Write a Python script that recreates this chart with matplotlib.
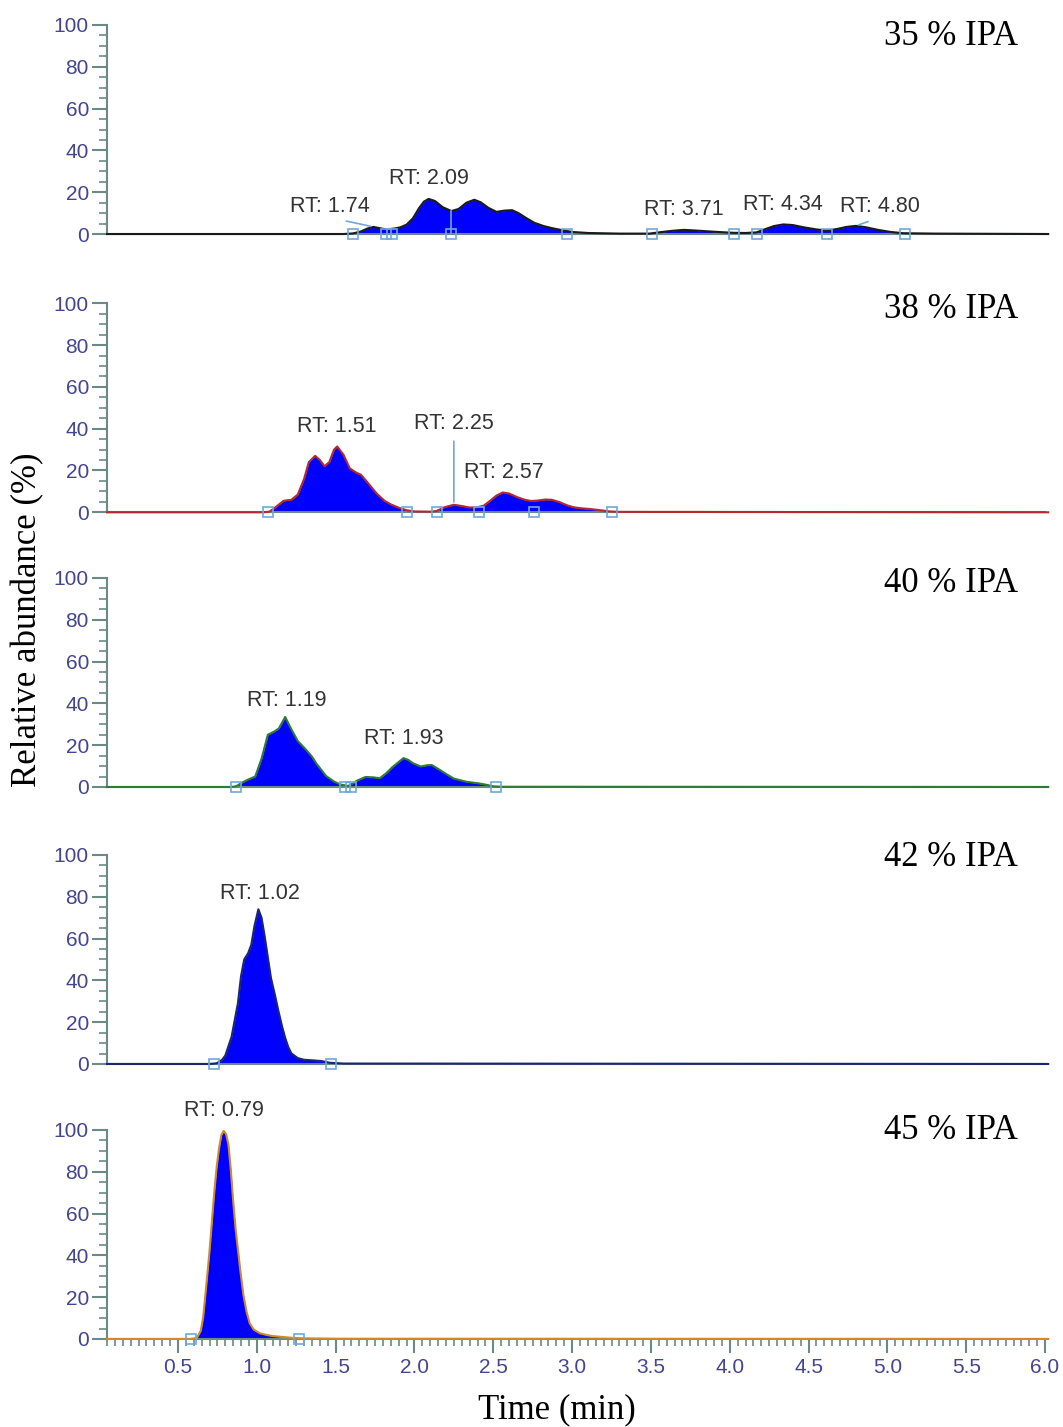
"""Stacked chromatograms of the analyte at increasing IPA content."""
import matplotlib

matplotlib.use("Agg")
import matplotlib.pyplot as plt
import numpy as np
from matplotlib.ticker import MultipleLocator

# ---- data -------------------------------------------------------------------
panel_labels = ["35 % IPA", "38 % IPA", "40 % IPA", "42 % IPA", "45 % IPA"]

t_35 = [0.05, 1.55, 1.61, 1.66, 1.70, 1.74, 1.78, 1.82, 1.87, 1.91, 1.95, 1.99, 2.03,
        2.06, 2.09, 2.13, 2.18, 2.235, 2.28, 2.33, 2.38, 2.42, 2.47, 2.52, 2.57, 2.62,
        2.66, 2.71, 2.76, 2.82, 2.88, 2.94, 3.00, 3.10, 3.30, 3.49, 3.55, 3.63, 3.71,
        3.80, 3.90, 4.02, 4.10, 4.17, 4.22, 4.28, 4.34, 4.40, 4.47, 4.55, 4.62, 4.68,
        4.74, 4.80, 4.86, 4.94, 5.02, 5.10, 5.30, 6.02]
a_35 = [0, 0, 0.3, 1.2, 2.6, 3.4, 2.8, 2.2, 2.6, 3.2, 4.5, 7.5, 12.5,
        15.5, 16.8, 15.8, 12.8, 11.0, 12.0, 15.0, 16.4, 15.2, 12.5, 10.6, 11.2, 11.4,
        10.0, 7.6, 5.4, 3.8, 2.7, 1.8, 1.0, 0.5, 0.2, 0.2, 0.8, 1.5, 2.0,
        1.6, 1.1, 0.6, 0.5, 0.8, 2.2, 3.8, 4.6, 4.3, 3.2, 2.2, 1.7, 2.4,
        3.4, 3.9, 3.3, 2.0, 1.0, 0.4, 0.2, 0]

t_38 = [0.05, 1.04, 1.08, 1.12, 1.17, 1.22, 1.26, 1.30, 1.33, 1.37, 1.40, 1.43, 1.46,
        1.49, 1.51, 1.55, 1.59, 1.63, 1.66, 1.70, 1.76, 1.81, 1.85, 1.90, 1.95, 2.00,
        2.10, 2.14, 2.19, 2.25, 2.30, 2.35, 2.40, 2.44, 2.48, 2.52, 2.56, 2.60, 2.65,
        2.70, 2.74, 2.78, 2.83, 2.87, 2.92, 2.97, 3.01, 3.06, 3.11, 3.18, 3.24, 3.30, 6.02]
a_38 = [0, 0, 0.3, 2.5, 5.5, 6.0, 8.5, 16, 24, 27, 25, 22, 24,
        30, 31.5, 27.5, 21, 19, 18, 14.5, 9, 5.5, 3.8, 2.2, 1.0, 0.4,
        0.3, 0.6, 2.4, 3.6, 3.0, 2.3, 2.4, 3.2, 5.5, 8.0, 9.5, 9.0, 7.3,
        6.0, 5.4, 5.6, 6.1, 6.0, 4.9, 3.3, 2.4, 1.9, 1.6, 1.0, 0.4, 0.2, 0]

t_40 = [0.05, 0.84, 0.87, 0.91, 0.94, 0.99, 1.03, 1.07, 1.11, 1.14, 1.18, 1.22, 1.26,
        1.31, 1.35, 1.38, 1.44, 1.49, 1.53, 1.58, 1.61, 1.64, 1.69, 1.74, 1.78, 1.82,
        1.86, 1.93, 1.96, 1.99, 2.04, 2.08, 2.11, 2.16, 2.21, 2.25, 2.33, 2.41, 2.46,
        2.50, 2.56, 6.02]
a_40 = [0, 0, 0.4, 2.2, 3.4, 5.0, 13.5, 25.0, 26.5, 28.0, 33.5, 27.5, 22.0,
        18.0, 14.5, 11.0, 5.2, 2.6, 1.2, 0.5, 1.8, 3.2, 4.8, 4.6, 4.2, 6.5,
        9.5, 13.8, 13.0, 11.4, 9.8, 10.4, 10.5, 8.2, 5.8, 4.0, 2.5, 1.7, 1.0,
        0.3, 0.1, 0]

t_42 = [0.05, 0.70, 0.745, 0.78, 0.80, 0.84, 0.88, 0.90, 0.92, 0.945, 0.965, 0.985,
        1.01, 1.03, 1.05, 1.07, 1.09, 1.115, 1.135, 1.16, 1.18, 1.20, 1.22, 1.26, 1.30,
        1.36, 1.41, 1.46, 1.55, 6.02]
a_42 = [0, 0, 0.3, 2.0, 4.0, 13, 29, 42, 50, 53, 57, 66,
        74, 70, 61, 51, 41, 33, 26, 18, 12.5, 8, 5, 2.8, 2.0,
        1.7, 1.4, 0.6, 0.2, 0]

t_45 = [0.05, 0.58, 0.62, 0.645, 0.66, 0.68, 0.70, 0.715, 0.73, 0.745, 0.76, 0.775,
        0.79, 0.805, 0.82, 0.835, 0.85, 0.865, 0.88, 0.895, 0.915, 0.935, 0.955, 0.98,
        1.02, 1.07, 1.10, 1.17, 1.23, 1.30, 1.50, 6.02]
a_45 = [0, 0, 0.5, 4, 10.5, 26, 42, 56, 70, 82, 91, 97.5,
        99.5, 98, 93, 81, 66, 53, 43, 33, 21, 13, 7.5, 4.5,
        2.7, 1.8, 1.4, 0.9, 0.5, 0.3, 0.1, 0]

# retention times printed above the peaks
rt_35 = [1.74, 2.09, 3.71, 4.34, 4.80]
rt_38 = [1.51, 2.25, 2.57]
rt_40 = [1.19, 1.93]
rt_42 = [1.02]
rt_45 = [0.79]

# integration boundaries (small square markers on the baseline)
bounds_35 = [1.61, 1.82, 1.86, 2.235, 2.97, 3.51, 4.03, 4.17, 4.62, 5.11]
bounds_38 = [1.07, 1.95, 2.14, 2.41, 2.76, 3.25]
bounds_40 = [0.87, 1.56, 1.60, 2.52]
bounds_42 = [0.73, 1.47]
bounds_45 = [0.58, 1.27]

times = [t_35, t_38, t_40, t_42, t_45]
abund = [a_35, a_38, a_40, a_42, a_45]
rts = [rt_35, rt_38, rt_40, rt_42, rt_45]
bounds = [bounds_35, bounds_38, bounds_40, bounds_42, bounds_45]

# ---- styling ----------------------------------------------------------------
trace_colors = ["#1a1a1a", "#b5282e", "#2f7a34", "#1b2670", "#d08a2a"]
axis_gray = "#6b8a84"
tick_blue = "#44448f"
box_blue = "#6fa8dc"
serif = ["Liberation Serif", "DejaVu Serif"]
sans = ["Liberation Sans", "DejaVu Sans"]

# label offsets in pixels (dx, dy) from the peak apex; default is straight above
label_offsets = {
    (0, 1.74): (-44, 20),
    (0, 4.80): (24, 19),
    (1, 2.25): (0, 81),
}
leader_lines = {(0, 1.74), (0, 4.80), (1, 2.25)}
label_y = [0.947, 0.97, 0.975, 0.99, 0.995]

panel_bottoms = [0.836, 0.641, 0.4485, 0.2544, 0.0617]
left, width, height = 0.1007, 0.8824, 0.1465

fig = plt.figure(figsize=(10.63, 14.27), dpi=100)

for i in range(5):
    ax = fig.add_axes([left, panel_bottoms[i], width, height])
    t = np.asarray(times[i])
    a = np.asarray(abund[i])

    ax.fill_between(t, 0, a, color="#0000ff", lw=0, zorder=2)
    ax.plot(t, a, color=trace_colors[i], lw=1.5, zorder=3, clip_on=False)
    ax.plot(bounds[i], np.zeros(len(bounds[i])), "s", mfc="none", mec=box_blue,
            ms=7, mew=1.2, zorder=4, clip_on=False)

    if i == 0:
        # drop line splitting the two main peaks
        ax.plot([2.235, 2.235], [0, np.interp(2.235, t, a)], color=box_blue, lw=1.2, zorder=4)

    for rt in rts[i]:
        apex = np.interp(rt, t, a)
        dx, dy = label_offsets.get((i, rt), (0, 20))
        arrow = None
        if (i, rt) in leader_lines:
            arrow = dict(arrowstyle="-", color=box_blue, lw=1.2, relpos=(0.5, 0.0),
                         shrinkA=3, shrinkB=2)
        ax.annotate(f"RT: {rt:.2f}", xy=(rt, apex), xytext=(dx, dy),
                    textcoords="offset pixels", ha="center", va="center",
                    fontsize=15.5, color="#333333", family=sans,
                    arrowprops=arrow, zorder=5)

    ax.text(0.971, label_y[i], panel_labels[i], transform=ax.transAxes,
            ha="right", va="center", fontsize=25, family=serif, color="black")

    ax.set_xlim(0.05, 6.0)
    ax.set_ylim(0, 100)
    for side in ("top", "right"):
        ax.spines[side].set_visible(False)
    for side in ("left", "bottom"):
        ax.spines[side].set_color(axis_gray)
        ax.spines[side].set_linewidth(1.5)

    ax.yaxis.set_major_locator(MultipleLocator(20))
    ax.yaxis.set_minor_locator(MultipleLocator(5))
    ax.tick_params(axis="y", which="major", direction="out", length=11, width=1.5,
                   color=axis_gray, labelcolor=tick_blue, labelsize=15, pad=2)
    ax.tick_params(axis="y", which="minor", direction="out", length=6, width=1.2,
                   color=axis_gray)
    for lab in ax.get_yticklabels():
        lab.set_family(sans)

    if i < 4:
        ax.tick_params(axis="x", which="both", bottom=False, labelbottom=False)
    else:
        ax.xaxis.set_minor_locator(MultipleLocator(0.05))
        ax.set_xticks(np.arange(0.5, 6.01, 0.5))
        ax.set_xticklabels([f"{v:.1f}" for v in np.arange(0.5, 6.01, 0.5)])
        ax.tick_params(axis="x", which="major", direction="out", length=10, width=1.5,
                       color=axis_gray, labelcolor=tick_blue, labelsize=15, pad=4)
        ax.tick_params(axis="x", which="minor", direction="out", length=5, width=1.2,
                       color=axis_gray)
        for lab in ax.get_xticklabels():
            lab.set_family(sans)

fig.text(0.026, 0.5655, "Relative abundance (%)", rotation=90, ha="center",
         va="center", fontsize=25, family=serif)
fig.text(0.524, 0.012, "Time (min)", ha="center", va="center", fontsize=25, family=serif)

fig.savefig("out.png", dpi=100)
